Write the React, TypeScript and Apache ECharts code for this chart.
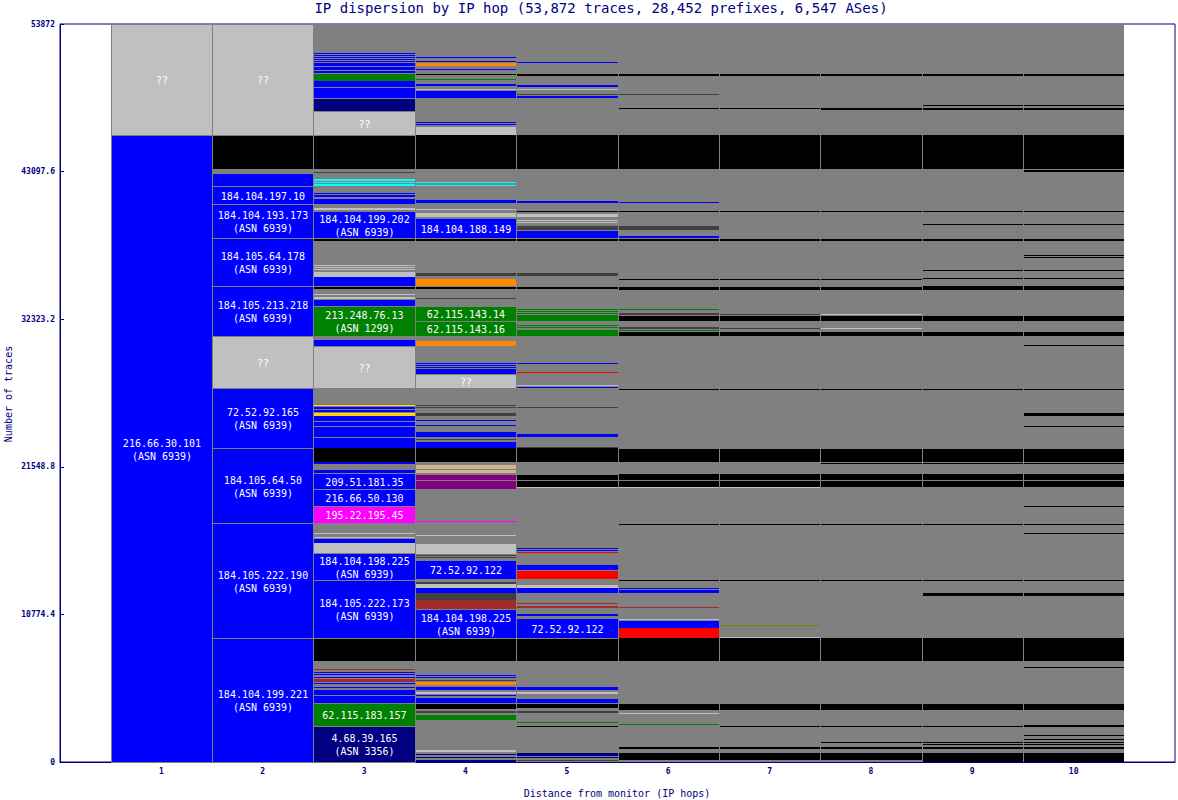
import React, { useEffect, useRef } from "react";
import * as echarts from "echarts";

type Seg = [number, number, string, string?];

const titleText = "IP dispersion by IP hop (53,872 traces, 28,452 prefixes, 6,547 ASes)";
const yName = "Number of traces";
const xName = "Distance from monitor (IP hops)";
const hopLabels = ["1", "2", "3", "4", "5", "6", "7", "8", "9", "10"];
const yMax = 53872;
const yStep = 10774.4;

const palette: Record<string, string> = {
  B: "#0000ff", N: "#000080", G: "#008000", L: "#c0c0c0", K: "#000000",
  D: "#404040", C: "#00ffff", O: "#ff8800", R: "#ff0000", M: "#ff00ff",
  P: "#800080", T: "#d2b48c", W: "#a52a2a", Y: "#ffd700", V: "#808000",
};

const hop1: Seg[] = [
  [0, 45771, "B", "216.66.30.101\n(ASN 6939)"],
  [45771, 53872, "L", "??"],
];

const hop2: Seg[] = [
  [0, 9052, "B", "184.104.199.221\n(ASN 6939)"],
  [9052, 17447, "B", "184.105.222.190\n(ASN 6939)"],
  [17447, 22922, "B", "184.105.64.50\n(ASN 6939)"],
  [22922, 27302, "B", "72.52.92.165\n(ASN 6939)"],
  [27302, 31098, "L", "??"],
  [31098, 34748, "B", "184.105.213.218\n(ASN 6939)"],
  [34748, 38252, "B", "184.105.64.178\n(ASN 6939)"],
  [38252, 40734, "B", "184.104.193.173\n(ASN 6939)"],
  [40734, 42048, "B", "184.104.197.10"],
  [42048, 42924, "B"],
  [43289, 45771, "K"],
  [45771, 53872, "L", "??"],
];

const hop3: Seg[] = [
  [0, 2628, "N", "4.68.39.165\n(ASN 3356)"],
  [2628, 4307, "G", "62.115.183.157"],
  [4307, 4818, "B"], [4891, 5256, "B"], [5402, 5475, "B"], [5694, 5767, "B"],
  [5840, 6059, "W"], [6132, 6205, "B"], [6351, 6424, "B"], [6497, 6570, "B"],
  [6716, 6789, "W"],
  [7373, 9052, "K"],
  [9052, 13286, "B", "184.105.222.173\n(ASN 6939)"],
  [13286, 15257, "B", "184.104.198.225\n(ASN 6939)"],
  [15257, 15987, "L"], [15987, 16279, "B"], [16352, 16425, "L"], [16644, 16717, "L"],
  [17447, 18688, "M", "195.22.195.45"],
  [18688, 19929, "B", "216.66.50.130"],
  [19929, 21097, "B", "209.51.181.35"],
  [21097, 21316, "B"], [21754, 21900, "B"],
  [21900, 22922, "K"],
  [22922, 23652, "B"], [23725, 24455, "B"], [24528, 24820, "B"], [24893, 25258, "B"],
  [25258, 25477, "Y"], [25550, 25696, "B"], [25769, 25915, "B"], [25988, 26061, "Y"],
  [27302, 30368, "L", "??"],
  [30368, 30806, "B"],
  [31098, 33288, "G", "213.248.76.13\n(ASN 1299)"],
  [33288, 33726, "B"], [33799, 33945, "L"], [34091, 34164, "L"],
  [34529, 34675, "K"],
  [34748, 35405, "B"], [35405, 35770, "L"], [35916, 35989, "L"], [36062, 36135, "L"], [36208, 36281, "L"],
  [38033, 38179, "K"],
  [38252, 40223, "B", "184.104.199.202\n(ASN 6939)"],
  [40296, 40442, "L"], [40734, 41099, "B"], [41245, 41391, "B"], [41464, 41537, "B"],
  [42048, 42194, "C"], [42267, 42340, "C"], [42413, 42559, "C"], [42997, 43070, "D"],
  [43289, 45771, "K"],
  [45771, 47523, "L", "??"],
  [47523, 48399, "N"], [48472, 49202, "B"], [49275, 49713, "B"], [49713, 50224, "G"],
  [50297, 50443, "B"], [50516, 50735, "B"], [50808, 51027, "B"], [51100, 51173, "B"],
  [51246, 51319, "B"], [51392, 51465, "B"], [51538, 51611, "B"], [51684, 51757, "B"],
];

const hop4: Seg[] = [
  [0, 146, "N"], [292, 365, "N"], [511, 584, "N"], [730, 876, "L"],
  [3066, 3431, "G"], [3577, 3723, "D"], [3869, 4234, "K"],
  [4307, 4672, "B"], [4818, 4891, "B"], [4964, 5110, "L"], [5256, 5475, "B"],
  [5621, 5840, "O"], [5913, 5986, "D"], [6132, 6205, "B"], [6278, 6351, "B"],
  [7373, 9052, "K"],
  [9052, 11169, "B", "184.104.198.225\n(ASN 6939)"],
  [11169, 11826, "W"], [11826, 12337, "D"], [12337, 12702, "B"], [12702, 12994, "L"], [12994, 13140, "D"],
  [13359, 14746, "B", "72.52.92.122"],
  [14892, 14965, "D"], [15038, 15111, "D"], [15184, 15914, "L"], [16498, 16571, "L"],
  [17520, 17593, "M"],
  [19929, 20513, "P"], [20586, 20951, "P"], [21097, 21316, "T"], [21389, 21681, "T"],
  [21900, 22922, "K"],
  [22922, 23360, "B"], [23506, 23579, "D"], [23725, 24090, "B"], [24528, 24601, "B"],
  [24893, 24966, "B"], [25258, 25477, "D"], [25842, 25915, "D"], [25988, 26061, "D"],
  [27302, 28324, "L", "??"],
  [28324, 28689, "B"], [28762, 28835, "B"], [28908, 28981, "B"], [29054, 29127, "B"],
  [30368, 30733, "O"],
  [31098, 32193, "G", "62.115.143.16"],
  [32193, 33288, "G", "62.115.143.14"],
  [33799, 33872, "D"], [34529, 34675, "K"], [34748, 35259, "O"], [35478, 35697, "D"],
  [38033, 38179, "K"],
  [38252, 39712, "B", "184.104.188.149"],
  [39785, 40077, "L"], [40296, 40369, "L"], [40807, 41026, "B"],
  [42048, 42121, "C"], [42267, 42340, "C"],
  [43289, 45771, "K"],
  [45771, 46355, "L"], [46501, 46574, "B"], [46647, 46720, "B"],
  [48472, 48983, "B"], [49056, 49129, "L"], [49348, 49494, "B"], [49786, 49859, "G"],
  [50151, 50224, "K"], [50516, 50589, "B"], [50808, 51027, "O"], [51100, 51173, "B"], [51392, 51465, "B"],
];

const hop5: Seg[] = [
  [73, 146, "D"], [292, 365, "N"], [438, 657, "N"],
  [2555, 2628, "K"], [2847, 2920, "G"], [3577, 3723, "D"], [3942, 4234, "K"],
  [4307, 4599, "B"], [4964, 5110, "L"], [5256, 5475, "B"],
  [7373, 9052, "K"],
  [9052, 10512, "B", "72.52.92.122"],
  [10658, 10804, "B"], [11242, 11388, "W"], [11534, 11607, "W"],
  [12337, 12702, "B"], [12702, 12921, "L"],
  [13359, 13943, "R"], [14016, 14381, "B"],
  [15257, 15330, "R"], [15403, 15476, "B"], [15549, 15622, "B"],
  [20002, 20075, "L"], [20075, 20513, "K"], [20586, 20951, "K"],
  [21900, 22922, "K"], [22922, 22995, "D"],
  [23725, 23944, "B"], [25842, 25915, "D"],
  [27302, 27375, "B"], [27448, 27521, "L"], [28397, 28470, "R"], [29054, 29127, "B"],
  [31098, 31536, "G"], [31682, 31755, "G"], [31828, 31901, "G"],
  [32193, 32631, "G"], [32704, 32777, "G"], [32850, 32923, "G"], [32996, 33069, "G"],
  [34529, 34675, "K"], [35478, 35697, "D"],
  [38033, 38179, "K"],
  [38252, 38763, "B"], [38836, 39128, "D"], [39347, 39420, "L"], [39493, 39566, "L"],
  [39785, 40004, "L"], [40150, 40223, "K"], [40807, 40953, "B"],
  [43289, 45771, "K"],
  [48472, 48618, "B"], [48691, 48764, "D"], [49056, 49129, "L"], [49275, 49421, "B"],
  [50078, 50224, "K"], [51027, 51100, "B"],
];

const hop6: Seg[] = [
  [146, 657, "K"], [949, 1095, "K"], [2701, 2774, "G"], [3504, 3577, "L"], [3796, 4234, "K"],
  [7373, 9052, "K"],
  [9052, 9782, "R"], [9782, 10293, "B"], [10366, 10439, "L"], [11242, 11315, "W"],
  [12337, 12556, "B"], [12629, 12702, "B"], [13213, 13286, "K"], [17301, 17374, "K"],
  [20002, 20075, "L"], [20075, 20513, "K"], [20586, 21024, "K"], [21900, 22849, "K"],
  [27156, 27229, "K"],
  [31098, 31390, "K"], [31463, 31536, "G"], [31609, 31755, "D"],
  [32193, 32558, "K"], [32631, 32777, "D"], [32996, 33069, "G"],
  [34456, 34675, "K"], [35186, 35259, "K"],
  [38033, 38179, "K"], [38252, 38398, "B"], [38836, 39128, "D"],
  [40150, 40223, "K"], [40807, 40880, "B"],
  [43289, 45771, "K"],
  [47669, 47742, "K"], [48691, 48764, "D"], [50078, 50224, "K"],
];

const hop7: Seg[] = [
  [146, 657, "K"], [949, 1095, "K"], [2555, 2628, "K"], [3796, 4234, "K"],
  [7373, 9052, "K"],
  [9052, 9125, "L"], [9928, 10001, "V"],
  [13213, 13286, "K"], [17301, 17374, "K"],
  [20002, 20075, "L"], [20075, 20513, "K"], [20586, 21024, "K"], [21900, 22849, "K"],
  [27156, 27229, "K"],
  [31098, 31390, "K"], [31609, 31682, "D"], [32193, 32558, "K"], [32631, 32704, "D"],
  [34456, 34675, "K"], [35186, 35259, "K"],
  [38033, 38179, "K"], [40150, 40223, "K"],
  [43289, 45771, "K"],
  [47669, 47742, "K"], [50078, 50224, "K"],
];

const hop8: Seg[] = [
  [146, 657, "K"], [949, 1095, "K"], [1387, 1460, "K"], [2555, 2628, "K"], [3796, 4234, "K"],
  [7373, 9052, "K"],
  [13213, 13286, "K"], [17301, 17374, "K"],
  [20075, 20513, "K"], [20586, 21024, "K"], [21754, 21827, "K"], [21900, 22849, "K"],
  [27156, 27229, "K"],
  [31098, 31390, "K"], [31609, 31682, "L"], [32193, 32558, "K"], [32631, 32704, "L"],
  [34456, 34675, "K"], [35186, 35259, "K"],
  [38033, 38179, "K"], [40150, 40223, "K"],
  [43289, 45771, "K"],
  [47596, 47742, "K"], [50078, 50224, "K"],
];

const hop9: Seg[] = [
  [0, 657, "K"], [949, 1095, "K"], [1241, 1314, "K"], [1387, 1460, "K"],
  [2555, 2628, "K"], [3796, 4234, "K"],
  [7373, 9052, "K"],
  [12118, 12337, "K"], [13213, 13286, "K"], [17301, 17374, "K"],
  [20075, 20513, "K"], [20586, 21024, "K"], [21754, 21827, "K"], [21900, 22849, "K"],
  [27156, 27229, "K"],
  [31098, 31390, "K"], [32193, 32558, "K"],
  [34456, 34748, "K"], [35259, 35332, "K"], [35843, 35916, "K"],
  [38033, 38179, "K"], [39201, 39274, "K"], [40150, 40223, "K"],
  [43289, 45771, "K"],
  [47596, 47742, "K"], [47888, 47961, "K"], [50078, 50224, "K"],
];

const hop10: Seg[] = [
  [0, 657, "K"], [949, 1095, "K"], [1241, 1314, "K"], [1387, 1460, "K"],
  [1606, 1679, "K"], [1898, 1971, "K"], [2555, 2701, "K"], [3796, 4234, "K"],
  [6862, 6935, "K"],
  [7373, 9052, "K"],
  [12118, 12337, "K"], [13213, 13286, "K"], [16644, 16717, "K"], [17301, 17374, "K"],
  [18615, 18688, "K"],
  [20075, 20513, "K"], [20586, 21024, "K"], [21754, 21827, "K"], [21900, 22849, "K"],
  [24455, 24528, "K"], [25258, 25477, "K"], [27156, 27229, "K"], [30368, 30441, "K"],
  [31098, 31390, "K"], [32193, 32558, "K"],
  [34456, 34748, "K"], [35259, 35332, "K"], [35843, 35916, "K"],
  [36792, 36865, "K"], [36938, 37011, "K"],
  [38033, 38179, "K"], [39201, 39274, "K"], [40150, 40223, "K"],
  [43070, 43216, "K"],
  [43289, 45771, "K"],
  [47596, 47742, "K"], [47888, 47961, "K"], [50078, 50224, "K"],
];

const hopSegments: Seg[][] = [hop1, hop2, hop3, hop4, hop5, hop6, hop7, hop8, hop9, hop10];

const NAVY = "#000080";
const GREY = "#808080";
const MONO = '"DejaVu Sans Mono", "Liberation Mono", monospace';

export default function App() {
  const ref = useRef<HTMLDivElement>(null);

  useEffect(() => {
    document.body.style.margin = "0";
    if (!ref.current) return;
    const chart = echarts.init(ref.current, null, { renderer: "svg" });

    const flat: { col: number; low: number; high: number; color: string; label?: string }[] = [];
    hopSegments.forEach((segs, i) => {
      segs.forEach((s) => flat.push({ col: i + 1, low: s[0], high: s[1], color: palette[s[2]], label: s[3] }));
    });

    const bgCols = hopLabels.map((_, i) => i + 1).filter((c) => c >= 2);
    const sepCols = hopLabels.map((_, i) => i + 1);

    const option: any = {
      animation: false,
      backgroundColor: "#ffffff",
      grid: {
        left: 60, top: 24, right: 2, bottom: 38,
        show: true, borderColor: NAVY, borderWidth: 1, backgroundColor: "#ffffff",
      },
      xAxis: {
        type: "value", min: 0, max: 11, interval: 1,
        axisLine: { show: true, lineStyle: { color: NAVY, width: 1 } },
        axisTick: { show: false },
        splitLine: { show: false },
        axisLabel: {
          color: NAVY, fontFamily: MONO, fontSize: 8, fontWeight: "bold", margin: 5,
          formatter: (v: number) => (v >= 1 && v <= hopLabels.length ? hopLabels[v - 1] : ""),
        },
      },
      yAxis: {
        type: "value", min: 0, max: yMax, interval: yStep,
        axisLine: { show: true, lineStyle: { color: NAVY, width: 1 } },
        axisTick: { show: true, inside: true, length: 4, lineStyle: { color: NAVY } },
        splitLine: { show: false },
        axisLabel: {
          color: NAVY, fontFamily: MONO, fontSize: 8, fontWeight: "bold", margin: 5,
          showMinLabel: true, showMaxLabel: true,
          formatter: (v: number) => String(Math.round(v * 10) / 10),
        },
      },
      graphic: [
        {
          type: "text", x: 601, y: 8,
          style: { text: titleText, font: `14px ${MONO}`, fill: NAVY, textAlign: "center", textVerticalAlign: "middle", align: "center", verticalAlign: "middle" },
        },
        {
          type: "text", x: 8, y: 394, rotation: Math.PI / 2,
          style: { text: yName, font: `10px ${MONO}`, fill: NAVY, textAlign: "center", textVerticalAlign: "middle", align: "center", verticalAlign: "middle" },
        },
        {
          type: "text", x: 617, y: 793,
          style: { text: xName, font: `10px ${MONO}`, fill: NAVY, textAlign: "center", textVerticalAlign: "middle", align: "center", verticalAlign: "middle" },
        },
      ],
      series: [
        {
          type: "custom",
          silent: true,
          data: bgCols.map((c) => [c]),
          encode: { x: 0 },
          renderItem: (params: any, api: any) => {
            const c = api.value(0);
            const p0 = api.coord([c - 0.5, yMax]);
            const p1 = api.coord([c + 0.5, 0]);
            const x0 = Math.round(p0[0]), x1 = Math.round(p1[0]);
            const y0 = Math.round(p0[1]), y1 = Math.round(p1[1]);
            return { type: "rect", shape: { x: x0, y: y0, width: x1 - x0, height: y1 - y0 }, style: { fill: GREY } };
          },
          z: 1,
        },
        {
          type: "custom",
          silent: true,
          data: flat.map((f) => [f.col, f.low, f.high]),
          encode: { x: 0, y: [1, 2] },
          renderItem: (params: any, api: any) => {
            const f = flat[params.dataIndex];
            const p0 = api.coord([api.value(0) - 0.5, api.value(2)]);
            const p1 = api.coord([api.value(0) + 0.5, api.value(1)]);
            const x0 = Math.round(p0[0]), x1 = Math.round(p1[0]);
            const y0 = Math.round(p0[1]), y1 = Math.round(p1[1]);
            const h = Math.max(1, y1 - y0);
            if (!f.label) {
              return { type: "rect", shape: { x: x0, y: y0, width: x1 - x0, height: h }, style: { fill: f.color } };
            }
            return {
              type: "group",
              children: [
                {
                  type: "rect",
                  shape: { x: x0 + 0.5, y: y0 + 0.5, width: x1 - x0, height: h },
                  style: { fill: f.color, stroke: GREY, lineWidth: 1 },
                },
                {
                  type: "text",
                  style: {
                    text: f.label, x: (x0 + x1) / 2 + 0.5, y: (y0 + y1) / 2 + 1,
                    fill: "#ffffff", font: `10px ${MONO}`, lineHeight: 13,
                    align: "center", verticalAlign: "middle",
                  },
                },
              ],
            };
          },
          z: 2,
        },
        {
          type: "custom",
          silent: true,
          data: sepCols.map((c) => [c]),
          encode: { x: 0 },
          renderItem: (params: any, api: any) => {
            const c = api.value(0);
            const p0 = api.coord([c - 0.5, yMax]);
            const p1 = api.coord([c - 0.5, 0]);
            const x = Math.round(p0[0]);
            return { type: "rect", shape: { x, y: Math.round(p0[1]), width: 1, height: Math.round(p1[1]) - Math.round(p0[1]) }, style: { fill: GREY } };
          },
          z: 3,
        },
      ],
    };

    chart.setOption(option);
    return () => chart.dispose();
  }, []);

  return <div ref={ref} style={{ width: 1178, height: 800 }} />;
}
